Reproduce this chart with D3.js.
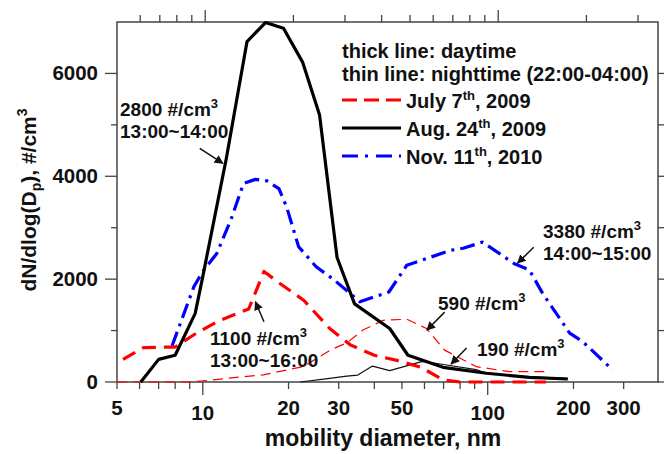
<!DOCTYPE html>
<html>
<head>
<meta charset="utf-8">
<script src="https://cdn.jsdelivr.net/npm/d3@7"></script>
<style>
  body { margin: 0; background: #fff; }
  text { font-family: "Liberation Sans", Arial, sans-serif; font-weight: bold; fill: #111; }
</style>
</head>
<body>
<div id="chart"></div>
<script>
// Chart data (diameter in nm, dN/dlogDp in #/cm3)
var xTickLabels = [5, 10, 20, 30, 50, 100, 200, 300];
var yTickLabels = [0, 2000, 4000, 6000];

var julyDay = [[5.25, 440], [6.2, 670], [8.0, 680], [9.5, 950], [11.5, 1200], [14.5, 1420], [16.4, 2150],
  [18.6, 1920], [22.6, 1590], [27.9, 1040], [33, 720], [40, 520], [48, 420], [58, 290], [70, 40], [80, 0], [160, 0]];
var julyNight = [[5, 0], [9, 0], [10, 20], [12.1, 70], [16.3, 140], [22.6, 300], [28, 620], [32, 760],
  [36.5, 1010], [43, 1200], [52, 1220], [61, 1040], [70.6, 620], [91, 300], [119, 200], [165, 200]];
var augDay = [[6.06, 0], [7.0, 440], [8.0, 520], [9.4, 1330], [10, 2050], [12.1, 4350], [14.3, 6620],
  [16.6, 6990], [19.2, 6880], [22.4, 6220], [25.7, 5190], [29.6, 2420], [34.1, 1520], [45.3, 1040],
  [52.5, 520], [69.7, 285], [99, 170], [140, 90], [191, 58]];
var augNight = [[22, 0], [27, 60], [32, 115], [35, 135], [39.4, 310], [45.3, 220], [59, 400], [70, 340],
  [91, 240], [100, 160], [140, 100], [191, 70]];
var novDay = [[7.8, 700], [9.3, 1850], [10, 2150], [11.2, 2500], [12.6, 3180], [13.9, 3860], [15.3, 3940],
  [16.8, 3910], [18.5, 3760], [19.7, 3400], [21.7, 2630], [25, 2240], [28.7, 2000], [35.6, 1560],
  [45, 1750], [52, 2270], [61, 2400], [74, 2560], [82, 2600], [96, 2720], [124, 2300], [140, 2180],
  [156, 1720], [194, 950], [216, 780], [275, 230]];

var legendDates = [["July 7", "th", ", 2009"], ["Aug. 24", "th", ", 2009"], ["Nov. 11", "th", ", 2010"]];
var legendNotes = ["thick line: daytime", "thin line: nighttime (22:00-04:00)"];

// SVG specs
var svgWidth = 664, svgHeight = 454;
var margin = { top: 22, right: 6, bottom: 72, left: 117 };
var width = svgWidth - margin.left - margin.right;
var height = svgHeight - margin.top - margin.bottom;

var svg = d3.select("#chart").append("svg")
  .attr("width", svgWidth)
  .attr("height", svgHeight);

var g = svg.append("g").attr("transform", `translate(${margin.left}, ${margin.top})`);

// scales
var x = d3.scaleLog().domain([5, 396]).range([0, width]);
var xTop = d3.scaleLog().domain([5, 351]).range([0, width]);
var y = d3.scaleLinear().domain([0, 7000]).range([height, 0]);

svg.append("defs").append("marker")
  .attr("id", "arrow")
  .attr("viewBox", "0 0 10 10")
  .attr("refX", 9).attr("refY", 5)
  .attr("markerWidth", 9).attr("markerHeight", 9)
  .attr("markerUnits", "userSpaceOnUse")
  .attr("orient", "auto")
  .append("path").attr("d", "M0,0 L10,5 L0,10 z").attr("fill", "#111");

// minor tick values on log axis
var minorBottom = [5, 6, 7, 8, 9, 20, 30, 40, 50, 60, 70, 80, 90, 200, 300];
var majorBottom = [10, 100];

// bottom axis
var axisColor = "#444";
var bottom = g.append("g").attr("transform", `translate(0, ${height})`);
bottom.selectAll(".minor").data(minorBottom).enter().append("line")
  .attr("x1", d => x(d)).attr("x2", d => x(d)).attr("y1", 0).attr("y2", 7)
  .attr("stroke", axisColor).attr("stroke-width", 1.3);
bottom.selectAll(".major").data(majorBottom).enter().append("line")
  .attr("x1", d => x(d)).attr("x2", d => x(d)).attr("y1", 0).attr("y2", 13)
  .attr("stroke", axisColor).attr("stroke-width", 1.3);
bottom.selectAll("text").data(xTickLabels).enter().append("text")
  .attr("x", d => x(d))
  .attr("y", d => majorBottom.includes(d) ? 38 : 33)
  .attr("text-anchor", "middle")
  .attr("font-size", 20.5)
  .text(d => d);

// top axis (own scale, as in the figure)
g.selectAll(".topminor").data(minorBottom.filter(d => d > 5)).enter().append("line")
  .attr("x1", d => xTop(d)).attr("x2", d => xTop(d)).attr("y1", 0).attr("y2", -7)
  .attr("stroke", axisColor).attr("stroke-width", 1.3);
g.selectAll(".topmajor").data(majorBottom).enter().append("line")
  .attr("x1", d => xTop(d)).attr("x2", d => xTop(d)).attr("y1", 0).attr("y2", -12)
  .attr("stroke", axisColor).attr("stroke-width", 1.3);

// left + right axis
var yMinor = [1000, 3000, 5000];
g.selectAll(".ymaj").data(yTickLabels).enter().append("line")
  .attr("x1", -12).attr("x2", 0).attr("y1", d => y(d)).attr("y2", d => y(d))
  .attr("stroke", axisColor).attr("stroke-width", 1.3);
g.selectAll(".ymin").data(yMinor).enter().append("line")
  .attr("x1", -6).attr("x2", 0).attr("y1", d => y(d)).attr("y2", d => y(d))
  .attr("stroke", axisColor).attr("stroke-width", 1.3);
g.selectAll(".yr").data(yTickLabels.concat(yMinor)).enter().append("line")
  .attr("x1", width).attr("x2", width + 6).attr("y1", d => y(d)).attr("y2", d => y(d))
  .attr("stroke", axisColor).attr("stroke-width", 1.3);
g.selectAll(".ylab").data(yTickLabels).enter().append("text")
  .attr("x", -19).attr("y", d => y(d) + 7)
  .attr("text-anchor", "end")
  .attr("font-size", 20.5)
  .text(d => d);

// frame
g.append("rect").attr("width", width).attr("height", height)
  .attr("fill", "none").attr("stroke", axisColor).attr("stroke-width", 1.5);

// lines
var line = d3.line().x(d => x(d[0])).y(d => y(d[1]));
var series = [
  { data: julyNight, color: "#ff0000", w: 1.2, dash: "10,6" },
  { data: augNight, color: "#111", w: 1.2, dash: null },
  { data: novDay, color: "#0000ff", w: 3.2, dash: "15,6,3,6" },
  { data: julyDay, color: "#ff0000", w: 3.2, dash: "14,8" },
  { data: augDay, color: "#000", w: 3.2, dash: null }
];
g.selectAll(".series").data(series).enter().append("path")
  .attr("d", d => line(d.data))
  .attr("fill", "none")
  .attr("stroke", d => d.color)
  .attr("stroke-width", d => d.w)
  .attr("stroke-dasharray", d => d.dash)
  .attr("stroke-linejoin", "round");

// axis titles
svg.append("text")
  .attr("x", 383).attr("y", 446)
  .attr("text-anchor", "middle")
  .attr("font-size", 23)
  .text("mobility diameter, nm");

var yt = svg.append("text")
  .attr("transform", "translate(36, 200) rotate(-90)")
  .attr("text-anchor", "middle")
  .attr("font-size", 21);
yt.append("tspan").text("dN/dlog(D");
yt.append("tspan").attr("font-size", 14).attr("dy", 5).text("p");
yt.append("tspan").attr("dy", -5).text("), #/cm");
yt.append("tspan").attr("font-size", 14).attr("dy", -9).text("3");

// legend
var legend = svg.append("g");
legend.selectAll(".note").data(legendNotes).enter().append("text")
  .attr("x", 342).attr("y", (d, i) => 58 + i * 23)
  .attr("font-size", 20)
  .text(d => d);
var legendStyle = [
  { color: "#ff0000", dash: "15,7" },
  { color: "#000", dash: null },
  { color: "#0000ff", dash: "16,7,3,8" }
];
legendDates.forEach(function(t, i) {
  var ly = 100 + i * 28;
  legend.append("line")
    .attr("x1", 342).attr("x2", 401).attr("y1", ly).attr("y2", ly)
    .attr("stroke", legendStyle[i].color).attr("stroke-width", 3.2)
    .attr("stroke-dasharray", legendStyle[i].dash);
  var tx = legend.append("text").attr("x", 406).attr("y", ly + 8).attr("font-size", 20);
  tx.append("tspan").text(t[0]);
  tx.append("tspan").attr("font-size", 13).attr("dy", -8).text(t[1]);
  tx.append("tspan").attr("dy", 8).text(t[2]);
});

// annotations
function annot(px, py, lines) {
  var t = svg.append("text").attr("x", px).attr("y", py).attr("font-size", 19);
  t.append("tspan").attr("x", px).text(lines[0]);
  t.append("tspan").attr("font-size", 13).attr("dy", -8).text("3");
  if (lines[1]) t.append("tspan").attr("x", px).attr("dy", 8 + 22).text(lines[1]);
}
annot(120, 116, ["2800 #/cm", "13:00~14:00"]);
annot(210, 345, ["1100 #/cm", "13:00~16:00"]);
annot(543, 238, ["3380 #/cm", "14:00~15:00"]);
annot(438, 310, ["590 #/cm"]);
annot(477, 356, ["190 #/cm"]);

var arrows = [
  [[9.76, 4544], [11.76, 4252]],
  [[16.4, 1171], [15.3, 1559]],
  [[145, 2621], [127.4, 2311]],
  [[70.6, 1359], [61.2, 1010]],
  [[84.3, 660], [74.4, 350]]
];
g.selectAll(".arrow").data(arrows).enter().append("line")
  .attr("x1", d => x(d[0][0])).attr("y1", d => y(d[0][1]))
  .attr("x2", d => x(d[1][0])).attr("y2", d => y(d[1][1]))
  .attr("stroke", "#111").attr("stroke-width", 1.5)
  .attr("marker-end", "url(#arrow)");
</script>
</body>
</html>
